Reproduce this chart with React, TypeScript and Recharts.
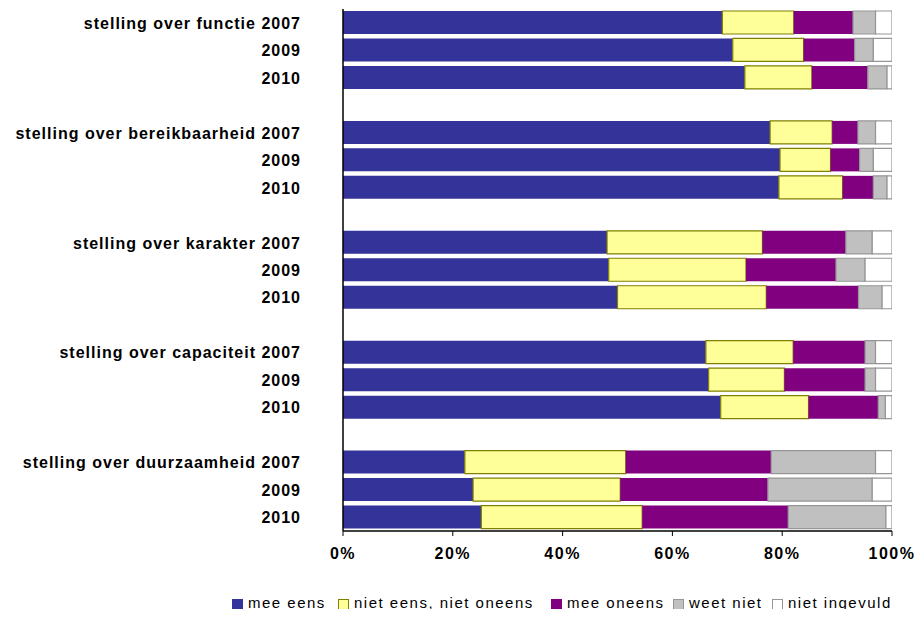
import React from 'react';
import { BarChart, Bar, XAxis, YAxis, Legend } from 'recharts';

const categories = ['f07', 'f09', 'f10', 'g1', 'b07', 'b09', 'b10', 'g2', 'k07', 'k09', 'k10', 'g3', 'c07', 'c09', 'c10', 'g4', 'd07', 'd09', 'd10'];
const labels = [
  'stelling over functie 2007', '2009', '2010', '',
  'stelling over bereikbaarheid 2007', '2009', '2010', '',
  'stelling over karakter 2007', '2009', '2010', '',
  'stelling over capaciteit 2007', '2009', '2010', '',
  'stelling over duurzaamheid 2007', '2009', '2010',
];

const meeEens = [69.1, 71.0, 73.2, null, 77.8, 79.6, 79.4, null, 48.1, 48.4, 50.0, null, 66.1, 66.6, 68.8, null, 22.2, 23.7, 25.2];
const nietEensNietOneens = [13.0, 12.9, 12.2, null, 11.3, 9.2, 11.6, null, 28.3, 25.0, 27.1, null, 15.9, 13.8, 16.0, null, 29.3, 26.8, 29.3];
const meeOneens = [10.8, 9.3, 10.2, null, 4.7, 5.3, 5.6, null, 15.2, 16.4, 16.8, null, 13.1, 14.7, 12.7, null, 26.5, 26.9, 26.6];
const weetNiet = [4.1, 3.4, 3.5, null, 3.2, 2.5, 2.5, null, 4.8, 5.3, 4.3, null, 1.9, 1.9, 1.3, null, 19.0, 19.0, 17.8];
const nietIngevuld = [3.0, 3.4, 0.9, null, 3.0, 3.4, 0.9, null, 3.6, 4.9, 1.8, null, 3.0, 3.0, 1.2, null, 3.0, 3.6, 1.1];

const xTicks = [0, 20, 40, 60, 80, 100];

const series = [
  { key: 'meeEens', name: 'mee eens', fill: '#333399', stroke: 'none', legendStroke: '#333399', width: 106 },
  { key: 'nietEens', name: 'niet eens, niet oneens', fill: '#FFFF99', stroke: '#808000', legendStroke: '#808000', width: 213 },
  { key: 'meeOneens', name: 'mee oneens', fill: '#800080', stroke: 'none', legendStroke: '#800080', width: 122 },
  { key: 'weetNiet', name: 'weet niet', fill: '#C0C0C0', stroke: '#969696', legendStroke: '#969696', width: 99 },
  { key: 'nietIngevuld', name: 'niet ingevuld', fill: '#FFFFFF', stroke: '#969696', legendStroke: '#969696', width: 130 },
];

const data = categories.map((id, i) => ({
  id,
  meeEens: meeEens[i],
  nietEens: nietEensNietOneens[i],
  meeOneens: meeOneens[i],
  weetNiet: weetNiet[i],
  nietIngevuld: nietIngevuld[i],
}));

const FONT = '"Liberation Sans", Arial, Helvetica, sans-serif';

const YTick = (props: any) => {
  const { x, y, payload } = props;
  const idx = categories.indexOf(payload.value);
  const text = idx >= 0 ? labels[idx] : '';
  return (
    <text x={x} y={y} dy={6} textAnchor="end" fontFamily={FONT} fontSize={16} fontWeight="bold" fill="#000" style={{ letterSpacing: '1px' }}>
      {text}
    </text>
  );
};

const XTick = (props: any) => {
  const { x, y, payload } = props;
  return (
    <text x={x} y={y} dy={23} textAnchor="middle" fontFamily={FONT} fontSize={16} fontWeight="bold" fill="#000" style={{ letterSpacing: '1.5px' }}>
      {`${payload.value}%`}
    </text>
  );
};

const LegendContent = () => (
  <div style={{ display: 'flex', alignItems: 'center', fontFamily: FONT, fontSize: 15, lineHeight: '18px', color: '#000', height: 18, whiteSpace: 'nowrap', overflow: 'visible' }}>
    {series.map((s) => (
      <div key={s.key} style={{ display: 'flex', alignItems: 'center', width: s.width }}>
        <span style={{ display: 'inline-block', width: 9, height: 9, background: s.fill, border: `1px solid ${s.legendStroke}`, marginRight: 5, marginTop: 2, flex: 'none' }} />
        <span style={{ letterSpacing: '1.5px' }}>{s.name}</span>
      </div>
    ))}
  </div>
);

export default function App() {
  return (
    <div style={{ width: 906, height: 609, marginBottom: -8 }}>
      <BarChart
        width={906}
        height={609}
        data={data}
        layout="vertical"
        margin={{ top: 1, right: 22, bottom: 8, left: 0 }}
        barSize={23}
        style={{ overflow: 'visible' }}
      >
        <XAxis
          type="number"
          domain={[0, 100]}
          ticks={xTicks}
          allowDataOverflow
          height={58}
          axisLine={{ stroke: '#000', strokeWidth: 1.5 }}
          tickLine={{ stroke: '#000' }}
          tickSize={5}
          tickMargin={0}
          tick={<XTick />}
          interval={0}
        />
        <XAxis
          xAxisId="top"
          orientation="top"
          type="number"
          domain={[0, 100]}
          height={0}
          tick={false}
          tickLine={false}
          axisLine={{ stroke: '#cccccc' }}
        />
        <YAxis
          type="category"
          dataKey="id"
          width={335}
          interval={0}
          tickSize={0}
          tickMargin={42}
          tickLine={false}
          axisLine={{ stroke: '#000', strokeWidth: 1.5 }}
          tick={<YTick />}
        />
        <YAxis
          yAxisId="right"
          orientation="right"
          type="category"
          dataKey="id"
          width={0}
          tick={false}
          tickLine={false}
          axisLine={{ stroke: '#cccccc' }}
        />
        <Legend
          content={<LegendContent />}
          verticalAlign="bottom"
          wrapperStyle={{ left: 224, top: 586, width: 680, height: 20, overflow: 'visible' }}
        />
        {series.map((s) => (
          <Bar
            key={s.key}
            dataKey={s.key}
            name={s.name}
            stackId="a"
            fill={s.fill}
            stroke={s.stroke}
            strokeWidth={s.stroke === 'none' ? 0 : 1.2}
            isAnimationActive={false}
          />
        ))}
      </BarChart>
    </div>
  );
}
